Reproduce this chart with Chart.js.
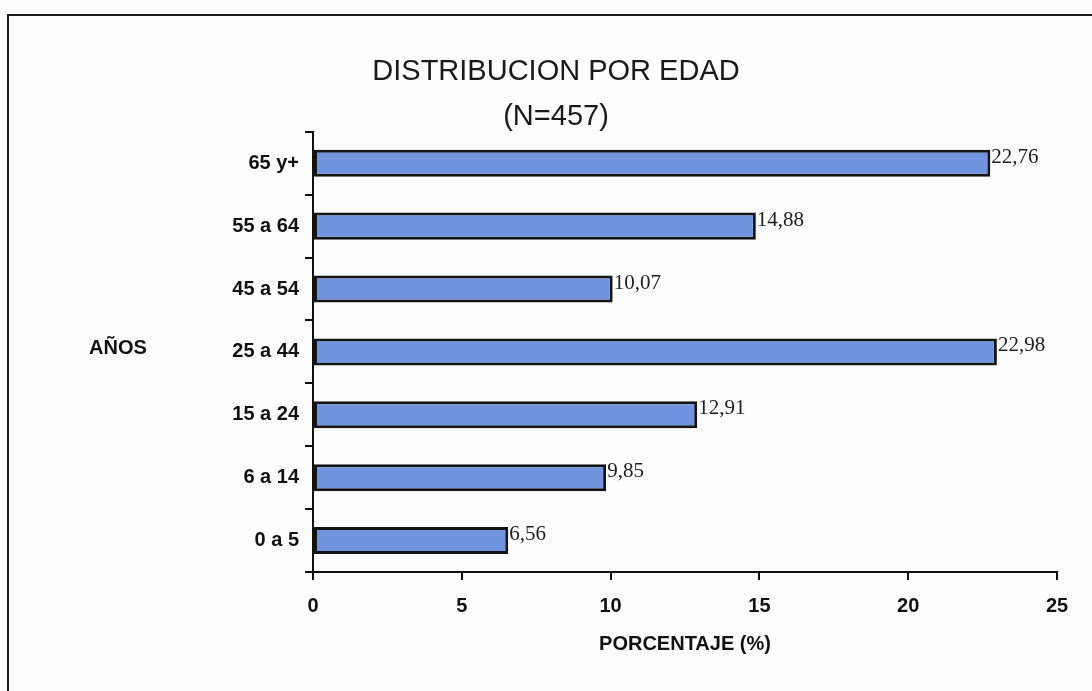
<!DOCTYPE html>
<html>
<head>
<meta charset="utf-8">
<title>Distribucion por edad</title>
<script src="https://cdn.jsdelivr.net/npm/chart.js@4/dist/chart.umd.min.js"></script>
<style>
  html, body { margin: 0; padding: 0; background: #fdfdfd; overflow: hidden; }
  #wrap { position: relative; width: 1092px; height: 691px; }
  /* the frame of the scanned page, right and bottom edges are cut off */
  #frame { position: absolute; left: 7px; top: 14px; width: 2000px; height: 2000px;
           border: 2px solid #1a1a1a; box-sizing: border-box; }
  #chartContainer { position: absolute; left: 0; top: 0; }
</style>
</head>
<body>
<div id="wrap">
  <div id="frame"></div>
  <canvas id="chartContainer" width="1092" height="691"></canvas>
</div>
<script>
"use strict";

// 1: data
// age groups, top to bottom like in the picture
let ageGroups = ['65 y+', '55 a 64', '45 a 54', '25 a 44', '15 a 24', '6 a 14', '0 a 5'];
// percentage of the 457 people in each group
let percentages = [22.76, 14.88, 10.07, 22.98, 12.91, 9.85, 6.56];
// values shown on the x axis
let xTicks = [0, 5, 10, 15, 20, 25];

let titleLines = ['DISTRIBUCION POR EDAD', '(N=457)'];
let yAxisTitle = 'AÑOS';
let xAxisTitle = 'PORCENTAJE (%)';

const SANS = '"Liberation Sans", Arial, sans-serif';
const SERIF = '"Liberation Serif", "Times New Roman", serif';

// 2: small plugin for the value labels and the horizontal "AÑOS" title
const labelsPlugin = {
  id: 'labelsPlugin',
  afterDatasetsDraw(chart) {
    const ctx = chart.ctx;
    const meta = chart.getDatasetMeta(0);
    ctx.save();
    ctx.fillStyle = '#1e1e1e';
    ctx.font = '21px ' + SERIF;
    ctx.textAlign = 'left';
    ctx.textBaseline = 'middle';
    meta.data.forEach((bar, i) => {
      // values written with a comma, like the original
      let text = percentages[i].toFixed(2).replace('.', ',');
      ctx.fillText(text, bar.x + 1, bar.y - 6);
    });
    // y axis title, written horizontally left of the tick labels
    const area = chart.chartArea;
    ctx.fillStyle = '#111';
    ctx.font = 'bold 20px ' + SANS;
    ctx.textAlign = 'center';
    ctx.fillText(yAxisTitle, 118, (area.top + area.bottom) / 2 - 3);
    ctx.restore();
  }
};

// 3: create the chart
function appendChart() {
  let chartContainer = document.getElementById('chartContainer');
  let chart = new Chart(chartContainer, {
    type: 'bar',
    data: {
      labels: ageGroups,
      datasets: [{
        data: percentages,
        backgroundColor: '#7095de',
        borderColor: '#141414',
        borderWidth: 3,
        borderSkipped: false,
        categoryPercentage: 1,
        barPercentage: 0.43
      }]
    },
    options: {
      indexAxis: 'y',
      responsive: false,
      animation: false,
      devicePixelRatio: 1,
      layout: {
        padding: { left: 55, right: 35, top: 0, bottom: 0 }
      },
      plugins: {
        legend: { display: false },
        tooltip: { enabled: false },
        title: {
          display: true,
          text: titleLines[0],
          color: '#1a1a1a',
          font: { family: SANS, size: 29, weight: 'normal', lineHeight: 1.2 },
          padding: { top: 55, bottom: 0 }
        },
        subtitle: {
          display: true,
          text: titleLines[1],
          color: '#1a1a1a',
          font: { family: SANS, size: 29, weight: 'normal', lineHeight: 1.0 },
          padding: { top: 13, bottom: 0 }
        }
      },
      scales: {
        x: {
          min: xTicks[0],
          max: xTicks[xTicks.length - 1],
          afterBuildTicks(scale) {
            scale.ticks = xTicks.map(v => ({ value: v }));
          },
          afterFit(scale) {
            // keeps the x axis line at the same height as the picture
            scale.height = 119;
          },
          border: { display: true, color: '#111', width: 2 },
          grid: { drawOnChartArea: false, drawTicks: true, tickLength: 8, color: '#111', lineWidth: 2 },
          ticks: {
            color: '#111',
            padding: 14,
            font: { family: SANS, size: 20, weight: 'bold' }
          },
          title: {
            display: true,
            text: xAxisTitle,
            color: '#111',
            font: { family: SANS, size: 20, weight: 'bold', lineHeight: 1.2 },
            padding: { top: 0, bottom: 35 }
          }
        },
        y: {
          afterFit(scale) {
            // y axis line sits at x = 313
            scale.width = 258;
          },
          border: { display: true, color: '#111', width: 2 },
          grid: { drawOnChartArea: false, drawTicks: true, tickLength: 8, color: '#111', lineWidth: 2, offset: true },
          ticks: {
            color: '#111',
            padding: 6,
            font: { family: SANS, size: 20, weight: 'bold' }
          }
        }
      }
    },
    plugins: [labelsPlugin]
  });
  return chart;
}

appendChart();
</script>
</body>
</html>
